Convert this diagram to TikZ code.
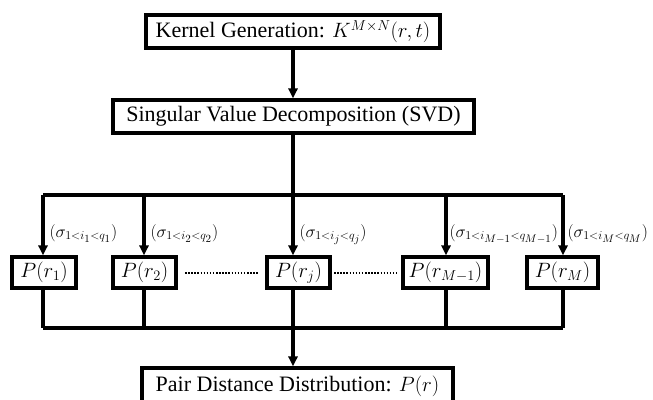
\documentclass[tikz,border=0pt]{standalone}
\usepackage{fontspec}
\setmainfont{Liberation Serif}
\usetikzlibrary{arrows.meta}
% larger script sizes for the coefficient labels
\DeclareMathSizes{17}{17}{13}{10.5}
\begin{document}
\begin{tikzpicture}[x=1pt,y=-1pt,
  line width=3.1pt,
  bigbox/.style={draw, line width=3.1pt, inner sep=0pt, minimum height=33pt,
    font=\fontsize{22}{26}\selectfont},
  pbox/.style={draw, line width=3.1pt, inner sep=0pt, minimum height=31pt,
    font=\fontsize{20}{24}\selectfont},
  arr/.style={-{Triangle[length=10pt,width=9pt]}},
  lbl/.style={anchor=base west, inner sep=0pt, font=\fontsize{17}{20}\selectfont},
  dotline/.style={line width=1.5pt, dash pattern=on 1.5pt off 1.6pt}]
\useasboundingbox (0,0) rectangle (653,399);

% main chain
\node[bigbox, minimum width=294pt] (kern) at (293,31.5) {Kernel Generation: $K^{M\times N}(r,t)$};
\node[bigbox, minimum width=361pt] (svd) at (293.5,116.5) {Singular Value Decomposition (SVD)};
\node[bigbox, minimum width=311pt, minimum height=36pt] (pdd) at (297.5,386) {Pair Distance Distribution: $P(r)$};

% per-component reconstructions
\node[pbox, minimum width=64pt] (p1) at (44,272.5) {$P(r_1)$};
\node[pbox, minimum width=63pt] (p2) at (144.5,272.5) {$P(r_2)$};
\node[pbox, minimum width=63pt] (pj) at (298.5,272.5) {$P(r_j)$};
\node[pbox, minimum width=85pt] (pm1) at (445.5,272.5) {$P(r_{M-1})$};
\node[pbox, minimum width=71pt] (pm) at (562.5,272.5) {$P(r_M)$};

% bus lines
\coordinate (top) at (293,195);
\coordinate (bot) at (293,328);

\draw[arr] (kern.south -| top) -- (svd.north -| top);
\draw[line width=4.8pt] (svd.south -| top) -- (top);
\draw (43,195) -- (563,195);
\draw (43,328) -- (563,328);

\foreach \n/\x in {p1/43, p2/144, pj/293, pm1/446, pm/563}{
  \draw[arr] (\x,195) -- (\n.north -| {(\x,0)});
  \draw (\n.south -| {(\x,0)}) -- (\x,328);
}
\draw[arr] (bot) -- (pdd.north -| bot);

% coefficient labels
\node[lbl] (l1) at (48,237) {$(\sigma_{1<i_1<q_1})$};
\node[lbl] (l2) at (149,237) {$(\sigma_{1<i_2<q_2})$};
\node[lbl] (lj) at (298,237) {$(\sigma_{1<i_j<q_j})$};
\node[lbl] (lm1) at (448,237) {$(\sigma_{1<i_{M-1}<q_{M-1}})$};
\node[lbl] (lm) at (566,237) {$(\sigma_{1<i_M<q_M})$};

% ellipsis between boxes
\draw[dotline] (185,273) -- (258,273);
\draw[dotline] (334,273) -- (397,273);
\end{tikzpicture}
\end{document}
